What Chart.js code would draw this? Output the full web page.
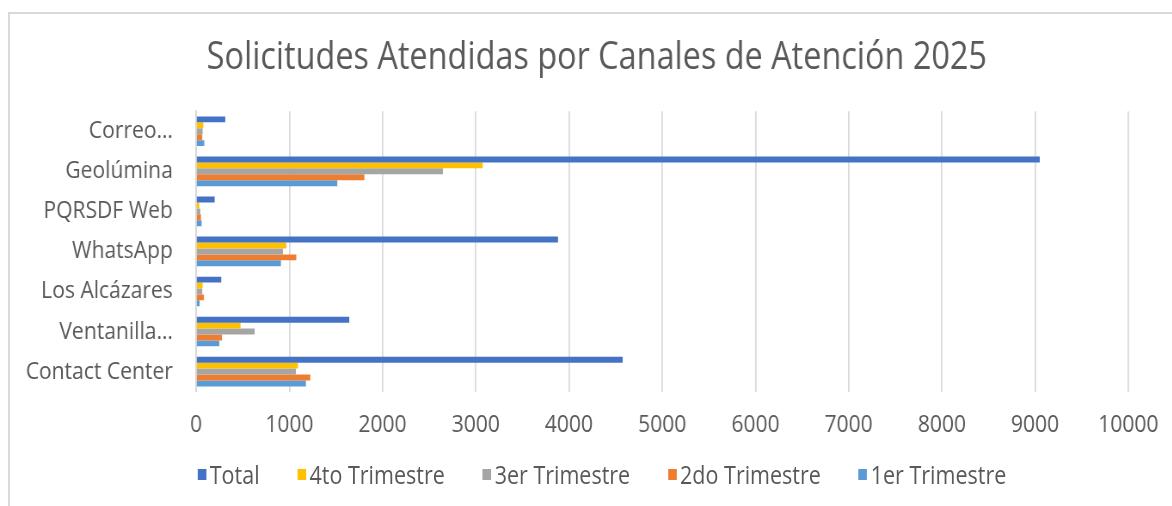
<!DOCTYPE html>
<html lang="es">
<head>
<meta charset="utf-8">
<title>Solicitudes Atendidas por Canales de Atención 2025</title>
<script src="https://cdn.jsdelivr.net/npm/chart.js@4.4.1/dist/chart.umd.min.js"></script>
<style>
  html, body { margin: 0; padding: 0; background: #ffffff; overflow: hidden; }
  body { width: 1172px; height: 506px; position: relative; }
  .frame {
    position: absolute; left: 8px; top: 12px; width: 1400px; height: 600px;
    border-top: 2px solid #d9d9d9; border-left: 2px solid #d9d9d9; box-sizing: border-box;
  }
  .stage {
    position: absolute; left: 0; top: 0; width: 1388px; height: 506px;
    transform: scaleX(0.86); transform-origin: 0 0;
    font-family: "Open Sans", sans-serif;
  }
  #chart { position: absolute; left: 0; top: 0; }
  .legend {
    position: absolute; left: 6px; width: 1388px; top: 460px; height: 28px;
    display: flex; justify-content: center; align-items: center;
    font-size: 25px; color: #595959; white-space: nowrap;
  }
  .legend .item { display: flex; align-items: center; margin-right: 44px; }
  .legend .item:last-child { margin-right: 0; }
  .legend .key { width: 10px; height: 11px; margin-right: 4px; }
</style>
</head>
<body>
<div class="frame"></div>
<div class="stage">
  <canvas id="chart" width="1388" height="506"></canvas>
  <div class="legend" id="legend"></div>
</div>
<script>
const chartTitle = 'Solicitudes Atendidas por Canales de Atención 2025';
const channels = ['Correo…', 'Geolúmina', 'PQRSDF Web', 'WhatsApp', 'Los Alcázares', 'Ventanilla…', 'Contact Center'];
const total = [313, 9050, 199, 3882, 270, 1643, 4576];
const q4 = [77, 3074, 34, 968, 70, 477, 1093];
const q3 = [70, 2648, 45, 932, 66, 628, 1071];
const q2 = [66, 1805, 52, 1075, 84, 277, 1225];
const q1 = [88, 1515, 59, 910, 38, 249, 1178];
const seriesNames = ['Total', '4to Trimestre', '3er Trimestre', '2do Trimestre', '1er Trimestre'];
const seriesColors = ['#4472C4', '#FFC000', '#A5A5A5', '#ED7D31', '#5B9BD5'];
const axisMax = 10000;
const axisStep = 1000;

const textColor = '#595959';
const fontFamily = '"Open Sans", sans-serif';
const gridColor = '#d9d9d9';

const seriesValues = [total, q4, q3, q2, q1];
const datasets = seriesValues.map((values, i) => ({
  label: seriesNames[i],
  data: values,
  backgroundColor: seriesColors[i],
  borderWidth: 0,
  barPercentage: 1,
  categoryPercentage: 0.74
}));

const chart = new Chart(document.getElementById('chart'), {
  type: 'bar',
  data: { labels: channels, datasets },
  options: {
    responsive: false,
    animation: false,
    indexAxis: 'y',
    layout: { padding: { left: 0, right: 0, top: 12, bottom: 47 } },
    plugins: {
      legend: { display: false },
      tooltip: { enabled: false },
      title: {
        display: true,
        text: chartTitle,
        color: textColor,
        font: { family: fontFamily, size: 37.7, weight: 'normal' },
        padding: { top: 24, bottom: 30 }
      }
    },
    scales: {
      x: {
        min: 0,
        max: axisMax,
        ticks: {
          stepSize: axisStep,
          autoSkip: false,
          maxRotation: 0,
          padding: 19,
          color: textColor,
          font: { family: fontFamily, size: 24.5 },
          callback: v => String(v)
        },
        grid: { color: gridColor, lineWidth: 1.75, drawTicks: false },
        border: { display: false },
        // keep the plot's right edge clear of the frame
        afterFit: scale => { scale.paddingRight = 76; }
      },
      y: {
        ticks: {
          autoSkip: false,
          padding: 27,
          color: textColor,
          font: { family: fontFamily, size: 24.5 }
        },
        grid: { display: false, drawTicks: false },
        border: { display: true, color: gridColor, width: 1.75 },
        afterFit: scale => { scale.width = 228; }
      }
    }
  }
});

// Legend built from the chart's own datasets
const legendEl = document.getElementById('legend');
chart.data.datasets.forEach(ds => {
  const item = document.createElement('div');
  item.className = 'item';
  const key = document.createElement('span');
  key.className = 'key';
  key.style.background = ds.backgroundColor;
  const label = document.createElement('span');
  label.textContent = ds.label;
  item.appendChild(key);
  item.appendChild(label);
  legendEl.appendChild(item);
});
</script>
</body>
</html>
